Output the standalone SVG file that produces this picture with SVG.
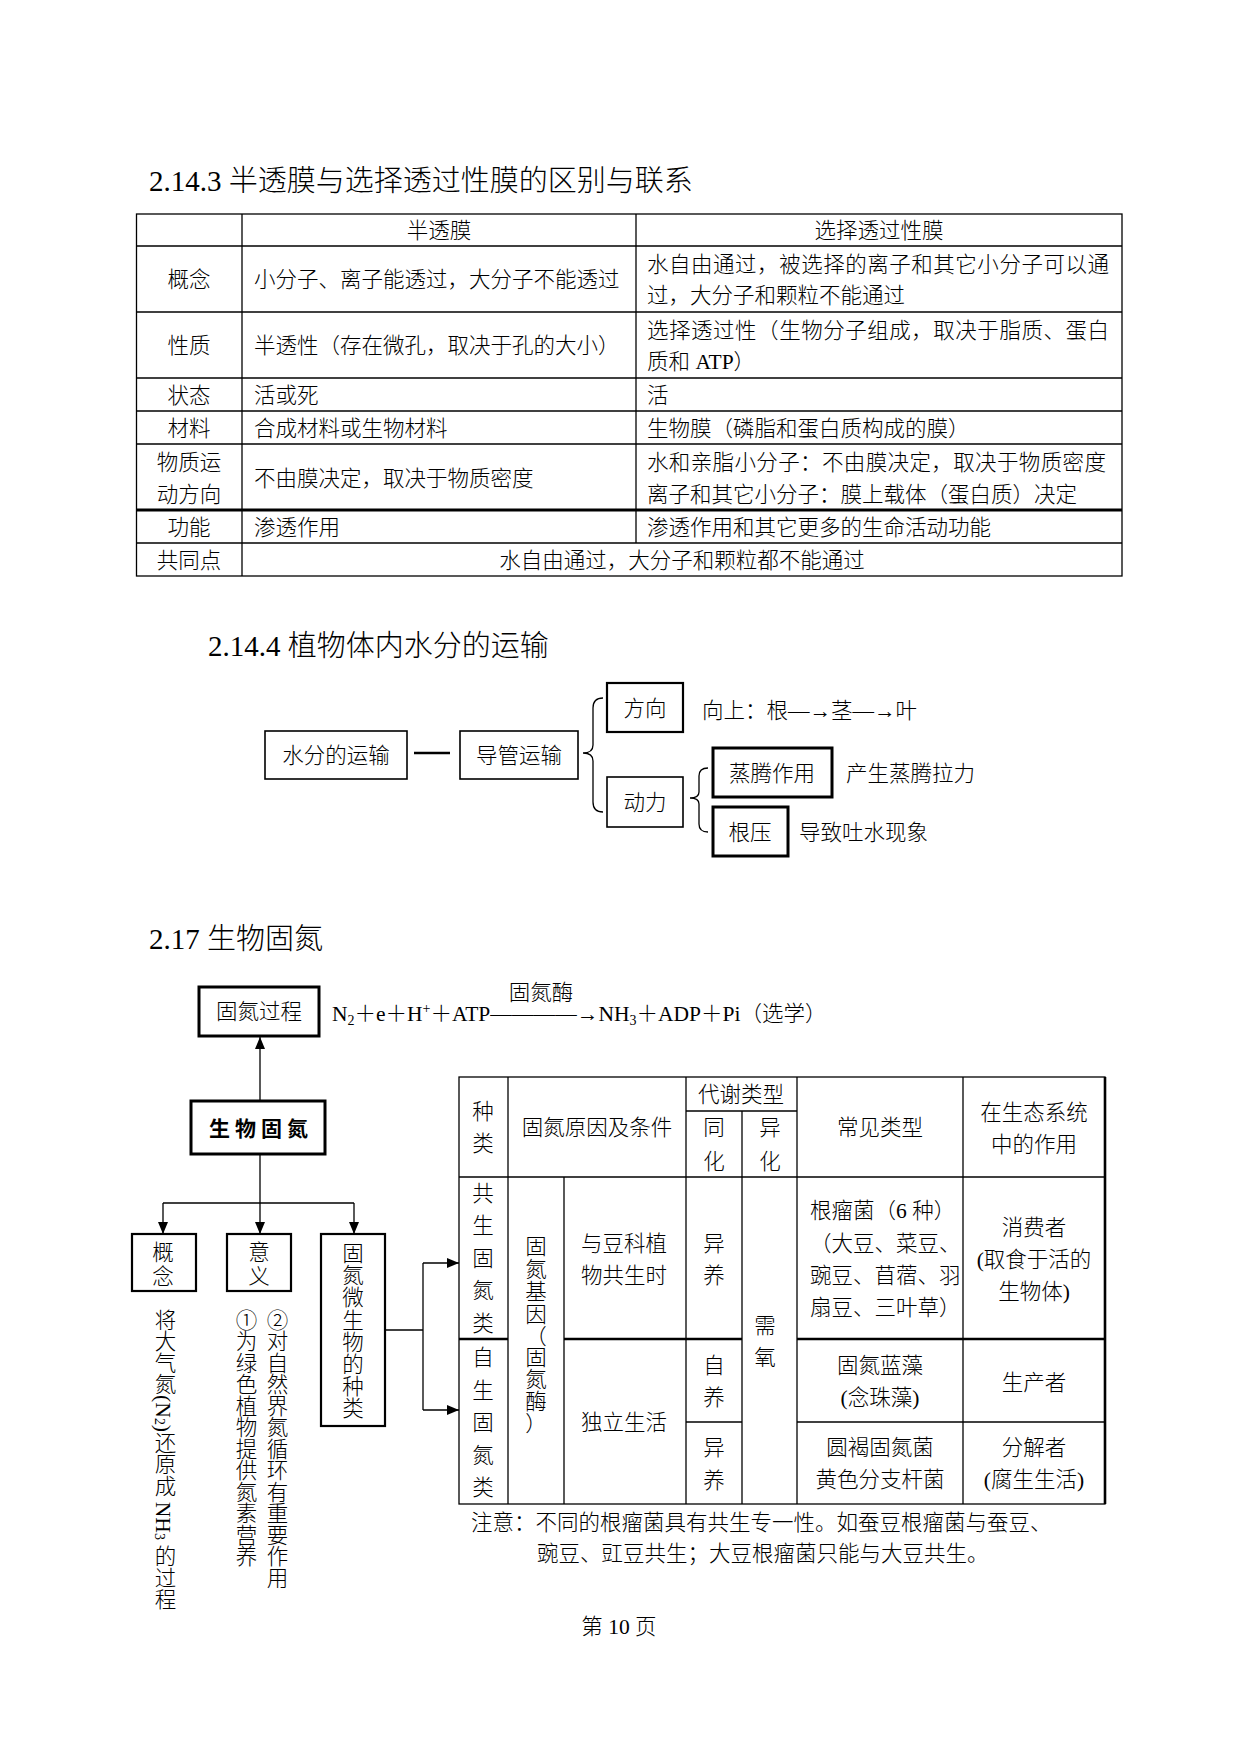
<svg xmlns="http://www.w3.org/2000/svg" width="1241" height="1754" viewBox="0 0 1241 1754">
<defs>
<style>
.t{font-family:"Liberation Serif","Noto Sans CJK SC",serif;font-size:21.5px;fill:#000;font-weight:300}
.c{text-anchor:middle}
.h{font-size:29px}
.ln{stroke:#000;stroke-width:1.3;fill:none}
.tk{stroke:#000;stroke-width:3;fill:none}
.box{fill:#fff;stroke:#000;stroke-width:1.6}
.box2{fill:#fff;stroke:#000;stroke-width:2.2}
.box3{fill:#fff;stroke:#000;stroke-width:3}
.vt{writing-mode:vertical-rl}
.bold{font-family:"Noto Sans CJK SC","Liberation Sans",sans-serif;font-weight:700;font-size:21px;letter-spacing:5px}
</style>
<marker id="ah" viewBox="0 0 12 10" refX="12" refY="5" markerWidth="12" markerHeight="10" markerUnits="userSpaceOnUse" orient="auto"><path d="M0,0 L12,5 L0,10 z" fill="#000"/></marker>
</defs>
<rect width="1241" height="1754" fill="#fff"/>

<!-- Section 1 -->
<text class="t h" x="149" y="191">2.14.3 半透膜与选择透过性膜的区别与联系</text>
<g id="table1">
<rect x="136.5" y="214" width="985.5" height="362" class="ln"/>
<line x1="242" y1="214" x2="242" y2="576" class="ln"/>
<line x1="636" y1="214" x2="636" y2="543" class="ln"/>
<line x1="136.5" y1="246" x2="1122" y2="246" class="ln"/>
<line x1="136.5" y1="312" x2="1122" y2="312" class="ln"/>
<line x1="136.5" y1="378" x2="1122" y2="378" class="ln"/>
<line x1="136.5" y1="411" x2="1122" y2="411" class="ln"/>
<line x1="136.5" y1="444" x2="1122" y2="444" class="ln"/>
<line x1="136.5" y1="510" x2="1122" y2="510" class="tk"/>
<line x1="136.5" y1="543" x2="1122" y2="543" class="ln"/>
<text class="t c" x="439" y="238">半透膜</text>
<text class="t c" x="879" y="238">选择透过性膜</text>
<text class="t c" x="189" y="287">概念</text>
<text class="t" x="254" y="287">小分子、离子能透过，大分子不能透过</text>
<text class="t" x="647" y="272" textLength="462" lengthAdjust="spacing">水自由通过，被选择的离子和其它小分子可以通</text>
<text class="t" x="647" y="303">过，大分子和颗粒不能通过</text>
<text class="t c" x="189" y="353">性质</text>
<text class="t" x="254" y="353">半透性（存在微孔，取决于孔的大小）</text>
<text class="t" x="647" y="338" textLength="462" lengthAdjust="spacing">选择透过性（生物分子组成，取决于脂质、蛋白</text>
<text class="t" x="647" y="369">质和 ATP）</text>
<text class="t c" x="189" y="403">状态</text>
<text class="t" x="254" y="403">活或死</text>
<text class="t" x="647" y="403">活</text>
<text class="t c" x="189" y="436">材料</text>
<text class="t" x="254" y="436">合成材料或生物材料</text>
<text class="t" x="647" y="436">生物膜（磷脂和蛋白质构成的膜）</text>
<text class="t c"><tspan x="189" y="470">物质运</tspan><tspan x="189" y="502">动方向</tspan></text>
<text class="t" x="254" y="486">不由膜决定，取决于物质密度</text>
<text class="t" x="647" y="470" textLength="459" lengthAdjust="spacing">水和亲脂小分子：不由膜决定，取决于物质密度</text>
<text class="t" x="647" y="502">离子和其它小分子：膜上载体（蛋白质）决定</text>
<text class="t c" x="189" y="535">功能</text>
<text class="t" x="254" y="535">渗透作用</text>
<text class="t" x="647" y="535">渗透作用和其它更多的生命活动功能</text>
<text class="t c" x="189" y="568">共同点</text>
<text class="t c" x="682" y="568">水自由通过，大分子和颗粒都不能通过</text>
</g>

<!-- Section 2 -->
<text class="t h" x="208" y="656">2.14.4 植物体内水分的运输</text>
<g id="water-connectors">
<line x1="414" y1="753" x2="450" y2="753" stroke="#000" stroke-width="2.5"/>
<path d="M603,698 Q593,698 593,708 L593,745 Q593,753 583,753 Q593,753 593,761 L593,802 Q593,812 603,812" class="ln"/>
<path d="M708,768 Q699,768 699,776 L699,792 Q699,798 690,798 Q699,798 699,804 L699,824 Q699,832 708,832" class="ln"/>
</g>
<g id="n-shuifen"><rect x="265" y="731" width="142" height="48" class="box"/><text class="t c" x="336" y="763">水分的运输</text></g>
<g id="n-daoguan"><rect x="460" y="731" width="118" height="48" class="box"/><text class="t c" x="519" y="763">导管运输</text></g>
<g id="n-fangxiang"><rect x="607" y="683" width="76" height="49" class="box2"/><text class="t c" x="645" y="716">方向</text></g>
<text class="t" x="702" y="718" textLength="215" lengthAdjust="spacing">向上：根—→茎—→叶</text>
<g id="n-dongli"><rect x="607" y="777" width="76" height="50" class="box"/><text class="t c" x="645" y="810">动力</text></g>
<g id="n-zhengteng"><rect x="713" y="748" width="119" height="49" class="box3"/><text class="t c" x="772" y="781">蒸腾作用</text></g>
<text class="t" x="846" y="781">产生蒸腾拉力</text>
<g id="n-genya"><rect x="713" y="807" width="75" height="49" class="box3"/><text class="t c" x="750" y="840">根压</text></g>
<text class="t" x="799" y="840">导致吐水现象</text>

<!-- Section 3 -->
<text class="t h" x="149" y="949">2.17 生物固氮</text>
<g id="tree-connectors">
<line x1="260" y1="1101" x2="260" y2="1037" class="ln" stroke-width="2" marker-end="url(#ah)"/>
<line x1="260" y1="1154" x2="260" y2="1203" class="ln"/>
<line x1="163" y1="1203" x2="354" y2="1203" class="ln"/>
<line x1="163" y1="1203" x2="163" y2="1234" class="ln" stroke-width="2" marker-end="url(#ah)"/>
<line x1="260" y1="1203" x2="260" y2="1234" class="ln" stroke-width="2" marker-end="url(#ah)"/>
<line x1="354" y1="1203" x2="354" y2="1234" class="ln" stroke-width="2" marker-end="url(#ah)"/>
<line x1="385" y1="1330" x2="423" y2="1330" class="ln"/>
<line x1="423" y1="1263" x2="423" y2="1410" class="ln" stroke-width="2"/>
<line x1="423" y1="1263" x2="459" y2="1263" class="ln" stroke-width="2" marker-end="url(#ah)"/>
<line x1="423" y1="1410" x2="459" y2="1410" class="ln" stroke-width="2" marker-end="url(#ah)"/>
</g>
<g id="n-gudanguocheng"><rect x="199" y="987" width="120" height="49" class="box3"/><text class="t c" x="259" y="1019">固氮过程</text></g>
<text class="t" x="332" y="1021">N<tspan font-size="14" baseline-shift="-4">2</tspan>＋e＋H<tspan font-size="14" baseline-shift="8">+</tspan>＋ATP<tspan textLength="108" lengthAdjust="spacing">————→</tspan>NH<tspan font-size="14" baseline-shift="-4">3</tspan>＋ADP＋Pi（选学）</text>
<text class="t c" x="541" y="1000">固氮酶</text>
<g id="n-shengwugudan"><rect x="191" y="1101" width="134" height="53" class="box3"/><text class="bold c" x="261" y="1136">生物固氮</text></g>
<g id="n-gainian"><rect x="132" y="1234" width="64" height="57" class="box2"/><text class="t c"><tspan x="163" y="1260">概</tspan><tspan x="163" y="1284">念</tspan></text></g>
<g id="n-yiyi"><rect x="227" y="1234" width="64" height="57" class="box2"/><text class="t c"><tspan x="259" y="1260">意</tspan><tspan x="259" y="1284">义</tspan></text></g>
<g id="n-zhonglei"><rect x="321" y="1234" width="64" height="192" class="box2"/><text class="t c"><tspan x="353" y="1261">固</tspan><tspan x="353" y="1283">氮</tspan><tspan x="353" y="1305">微</tspan><tspan x="353" y="1328">生</tspan><tspan x="353" y="1350">物</tspan><tspan x="353" y="1372">的</tspan><tspan x="353" y="1394">种</tspan><tspan x="353" y="1416">类</tspan></text></g>
<text class="t vt" x="163" y="1309">将大气氮(N<tspan font-size="14" baseline-shift="-4">2</tspan>)还原成 NH<tspan font-size="14" baseline-shift="-4">3</tspan> 的过程</text>
<text class="t vt" x="244" y="1309">①为绿色植物提供氮素营养</text>
<text class="t vt" x="275" y="1309">②对自然界氮循环有重要作用</text>

<g id="table2">
<rect x="459" y="1077" width="646" height="427" class="ln"/>
<line x1="1105" y1="1077" x2="1105" y2="1504" stroke="#000" stroke-width="2.6"/>
<line x1="508" y1="1077" x2="508" y2="1504" class="ln"/>
<line x1="564" y1="1177" x2="564" y2="1504" class="ln"/>
<line x1="686" y1="1077" x2="686" y2="1504" class="ln"/>
<line x1="742" y1="1111" x2="742" y2="1504" class="ln"/>
<line x1="797" y1="1077" x2="797" y2="1504" class="ln"/>
<line x1="963" y1="1077" x2="963" y2="1504" class="ln"/>
<line x1="686" y1="1111" x2="797" y2="1111" class="ln"/>
<line x1="459" y1="1177" x2="1105" y2="1177" class="ln"/>
<line x1="459" y1="1339" x2="508" y2="1339" stroke="#000" stroke-width="2.6"/>
<line x1="564" y1="1339" x2="742" y2="1339" stroke="#000" stroke-width="2.6"/>
<line x1="797" y1="1339" x2="1105" y2="1339" stroke="#000" stroke-width="2.6"/>
<line x1="686" y1="1422" x2="742" y2="1422" class="ln"/>
<line x1="797" y1="1422" x2="1105" y2="1422" class="ln"/>

<text class="t c"><tspan x="483" y="1119">种</tspan><tspan x="483" y="1151">类</tspan></text>
<text class="t c" x="597" y="1135">固氮原因及条件</text>
<text class="t c" x="741" y="1102">代谢类型</text>
<text class="t c"><tspan x="714" y="1135">同</tspan><tspan x="714" y="1169">化</tspan></text>
<text class="t c"><tspan x="770" y="1135">异</tspan><tspan x="770" y="1169">化</tspan></text>
<text class="t c" x="880" y="1135">常见类型</text>
<text class="t c"><tspan x="1034" y="1120">在生态系统</tspan><tspan x="1034" y="1152">中的作用</tspan></text>

<text class="t c"><tspan x="483" y="1201">共</tspan><tspan x="483" y="1233">生</tspan><tspan x="483" y="1266">固</tspan><tspan x="483" y="1298">氮</tspan><tspan x="483" y="1331">类</tspan></text>
<text class="t c"><tspan x="483" y="1365">自</tspan><tspan x="483" y="1398">生</tspan><tspan x="483" y="1430">固</tspan><tspan x="483" y="1463">氮</tspan><tspan x="483" y="1495">类</tspan></text>
<text class="t c" font-size="20"><tspan x="536" y="1254">固</tspan><tspan x="536" y="1277">氮</tspan><tspan x="536" y="1299">基</tspan><tspan x="536" y="1322">因</tspan><tspan x="536" y="1344">（</tspan><tspan x="536" y="1365">固</tspan><tspan x="536" y="1387">氮</tspan><tspan x="536" y="1409">酶</tspan><tspan x="536" y="1431">）</tspan></text>
<text class="t c"><tspan x="624" y="1251">与豆科植</tspan><tspan x="624" y="1283">物共生时</tspan></text>
<text class="t c"><tspan x="714" y="1251">异</tspan><tspan x="714" y="1283">养</tspan></text>
<text class="t c"><tspan x="765" y="1333">需</tspan><tspan x="765" y="1365">氧</tspan></text>
<text class="t" font-size="20.5"><tspan x="810" y="1218">根瘤菌（6 种）</tspan><tspan x="810" y="1251">（大豆、菜豆、</tspan><tspan x="810" y="1283">豌豆、苜蓿、羽</tspan><tspan x="810" y="1315">扇豆、三叶草）</tspan></text>
<text class="t c"><tspan x="1034" y="1235">消费者</tspan><tspan x="1034" y="1267">(取食于活的</tspan><tspan x="1034" y="1299">生物体)</tspan></text>
<text class="t c" x="624" y="1430">独立生活</text>
<text class="t c"><tspan x="714" y="1373">自</tspan><tspan x="714" y="1405">养</tspan></text>
<text class="t c"><tspan x="714" y="1455">异</tspan><tspan x="714" y="1488">养</tspan></text>
<text class="t c"><tspan x="880" y="1373">固氮蓝藻</tspan><tspan x="880" y="1405">(念珠藻)</tspan></text>
<text class="t c" x="1034" y="1390">生产者</text>
<text class="t c"><tspan x="880" y="1455">圆褐固氮菌</tspan><tspan x="880" y="1487">黄色分支杆菌</tspan></text>
<text class="t c"><tspan x="1034" y="1455">分解者</tspan><tspan x="1034" y="1487">(腐生生活)</tspan></text>
</g>
<text class="t" x="471" y="1530">注意：不同的根瘤菌具有共生专一性。如蚕豆根瘤菌与蚕豆、</text>
<text class="t" x="537" y="1561">豌豆、豇豆共生；大豆根瘤菌只能与大豆共生。</text>
<text class="t c" x="619" y="1634" font-size="16">第 10 页</text>
</svg>
